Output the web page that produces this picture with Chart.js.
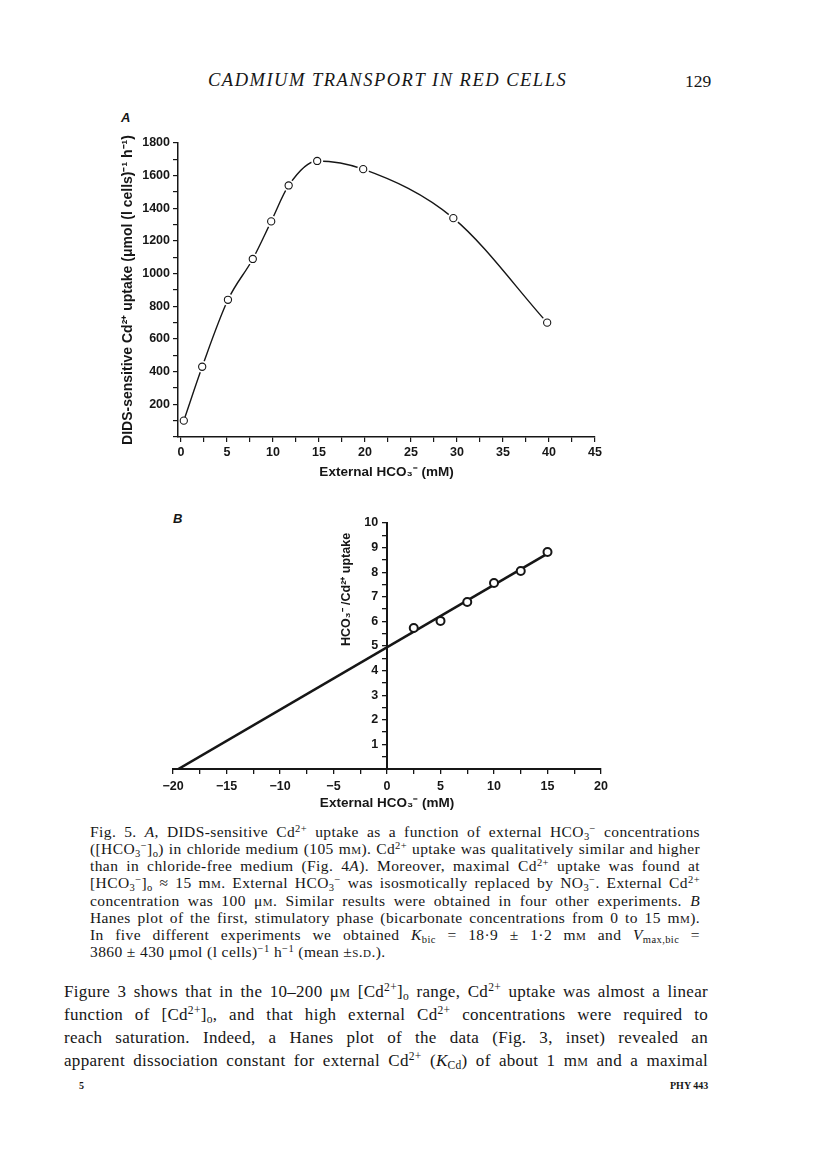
<!DOCTYPE html>
<html>
<head>
<meta charset="utf-8">
<script src="https://cdn.jsdelivr.net/npm/chart.js@4.4.1/dist/chart.umd.min.js"></script>
<style>
body { margin: 0; background: #fff; width: 816px; height: 1163px; position: relative; overflow: hidden; font-family: "Liberation Serif", serif; color: #161616; }
canvas { position: absolute; }
.t { position: absolute; white-space: nowrap; }
.ln { position: absolute; white-space: nowrap; text-align: justify; text-align-last: justify; }
.cap { left: 90px; width: 610px; font-size: 15.5px; line-height: 17px; letter-spacing: 0.4px; }
.body { left: 64px; width: 644px; font-size: 17px; line-height: 23px; letter-spacing: 0.3px; }
.last { text-align-last: left; }
sup, sub { font-size: 0.68em; line-height: 0; }
sup { vertical-align: 0.5em; }
sub { vertical-align: -0.25em; }
.sc { font-variant: small-caps; }
.panel { font-family: "Liberation Sans", sans-serif; font-style: italic; font-weight: bold; font-size: 13px; }
</style>
</head>
<body>

<div class="t" style="left:208px; top:70px; font-size:18.5px; font-style:italic; letter-spacing:1.5px;">CADMIUM TRANSPORT IN RED CELLS</div>
<div class="t" style="left:685px; top:71px; font-size:17.5px;">129</div>

<div class="t panel" style="left:121px; top:110px;">A</div>
<canvas id="chartA" width="520" height="390" style="left:100px; top:100px;"></canvas>

<div class="t panel" style="left:173px; top:511px;">B</div>
<canvas id="chartB" width="470" height="320" style="left:150px; top:500px;"></canvas>

<div class="ln cap" style="top:823px;">Fig. 5. <i>A</i>, DIDS-sensitive Cd<sup>2+</sup> uptake as a function of external HCO<sub>3</sub><sup>−</sup> concentrations</div>
<div class="ln cap" style="top:840px;">([HCO<sub>3</sub><sup>−</sup>]<sub>o</sub>) in chloride medium (105 m<span class="sc">m</span>). Cd<sup>2+</sup> uptake was qualitatively similar and higher</div>
<div class="ln cap" style="top:857px;">than in chloride-free medium (Fig. 4<i>A</i>). Moreover, maximal Cd<sup>2+</sup> uptake was found at</div>
<div class="ln cap" style="top:874px;">[HCO<sub>3</sub><sup>−</sup>]<sub>o</sub> ≈ 15 m<span class="sc">m</span>. External HCO<sub>3</sub><sup>−</sup> was isosmotically replaced by NO<sub>3</sub><sup>−</sup>. External Cd<sup>2+</sup></div>
<div class="ln cap" style="top:892px;">concentration was 100 μ<span class="sc">m</span>. Similar results were obtained in four other experiments. <i>B</i></div>
<div class="ln cap" style="top:909px;">Hanes plot of the first, stimulatory phase (bicarbonate concentrations from 0 to 15 m<span class="sc">m</span>).</div>
<div class="ln cap" style="top:926px;">In five different experiments we obtained <i>K</i><sub>bic</sub> = 18·9 ± 1·2 m<span class="sc">m</span> and <i>V</i><sub>max,bic</sub> =</div>
<div class="ln cap last" style="top:943px;">3860 ± 430 μmol (l cells)<sup>−1</sup> h<sup>−1</sup> (mean ±<span class="sc">s.d.</span>).</div>

<div class="ln body" style="top:980px;">Figure 3 shows that in the 10–200 μ<span class="sc">m</span> [Cd<sup>2+</sup>]<sub>o</sub> range, Cd<sup>2+</sup> uptake was almost a linear</div>
<div class="ln body" style="top:1003px;">function of [Cd<sup>2+</sup>]<sub>o</sub>, and that high external Cd<sup>2+</sup> concentrations were required to</div>
<div class="ln body" style="top:1026px;">reach saturation. Indeed, a Hanes plot of the data (Fig. 3, inset) revealed an</div>
<div class="ln body" style="top:1049px;">apparent dissociation constant for external Cd<sup>2+</sup> (<i>K</i><sub>Cd</sub>) of about 1 m<span class="sc">m</span> and a maximal</div>

<div class="t" style="left:79px; top:1080px; font-size:10px; font-weight:bold;">5</div>
<div class="t" style="left:670px; top:1080px; font-size:10px; font-weight:bold;">PHY 443</div>

<script>
// panel A: DIDS-sensitive uptake vs external bicarbonate
const hco3A = [0.3, 2.3, 5.1, 7.8, 9.8, 11.7, 14.8, 19.8, 29.6, 39.8];
const uptakeA = [100, 430, 840, 1090, 1320, 1540, 1690, 1640, 1340, 700];
const xTickLabelsA = [0, 5, 10, 15, 20, 25, 30, 35, 40, 45];
const yTickLabelsA = [200, 400, 600, 800, 1000, 1200, 1400, 1600, 1800];

// panel B: Hanes plot
const hco3B = [2.5, 5, 7.5, 10, 12.5, 15];
const ratioB = [5.73, 6.02, 6.79, 7.56, 8.05, 8.82];
const fitX = [-19.5, 15];
const fitY = [0, 8.76];
const xTickLabelsB = [-20, -15, -10, -5, 0, 5, 10, 15, 20];
const yTickLabelsB = [1, 2, 3, 4, 5, 6, 7, 8, 9, 10];

const ink = '#161616';
const tickFont = { family: 'Liberation Sans', size: 12.5, weight: 'bold' };
const titleFont = { family: 'Liberation Sans', size: 13.5, weight: 'bold' };

const ptsA = hco3A.map((x, i) => ({ x: x, y: uptakeA[i] }));
const ptsB = hco3B.map((x, i) => ({ x: x, y: ratioB[i] }));
const fitB = fitX.map((x, i) => ({ x: x, y: fitY[i] }));

function minus(v) {
  return v < 0 ? '\u2212' + Math.abs(v) : String(v);
}

new Chart(document.getElementById('chartA'), {
  type: 'scatter',
  data: {
    datasets: [
      { data: ptsA, showLine: false, pointRadius: c => c.dataIndex === 0 ? 4 : 6,
        pointBackgroundColor: '#fff', pointBorderWidth: 0, pointBorderColor: '#fff', order: 1, clip: false },
      { data: ptsA, showLine: true, borderColor: ink, borderWidth: 1.4, cubicInterpolationMode: 'monotone',
        pointRadius: 0, order: 2 },
      { data: ptsA, showLine: false, pointRadius: 3.6, pointBorderWidth: 1.1, pointBorderColor: ink,
        pointBackgroundColor: '#fff', order: 0, clip: false }
    ]
  },
  options: {
    responsive: false,
    animation: false,
    devicePixelRatio: 1,
    layout: { padding: { left: 0, right: 25, top: 43, bottom: 8 } },
    plugins: { legend: { display: false }, tooltip: { enabled: false } },
    scales: {
      x: {
        type: 'linear', min: -0.33, max: 45,
        afterFit: s => { s.height = 45; },
        border: { color: ink, width: 1.5 },
        grid: { drawOnChartArea: false, tickLength: 5, color: ink, lineWidth: 1.2 },
        ticks: { stepSize: 2.5, includeBounds: false, autoSkip: false, maxRotation: 0, padding: 3,
          color: ink, font: tickFont, callback: v => xTickLabelsA.includes(v) ? String(v) : '' },
        title: { display: true, text: 'External HCO\u2083\u207B (mM)', color: ink, font: titleFont,
          padding: { top: 0, bottom: 2 } }
      },
      y: {
        type: 'linear', min: 0, max: 1800,
        afterFit: s => { s.width = 78; },
        border: { color: ink, width: 1.5 },
        grid: { drawOnChartArea: false, tickLength: 5, color: ink, lineWidth: 1.2 },
        ticks: { stepSize: 100, autoSkip: false, padding: 3, color: ink, font: tickFont,
          callback: v => yTickLabelsA.includes(v) ? String(v) : '' },
        title: { display: true, text: 'DIDS-sensitive Cd\u00B2\u207A uptake (\u03BCmol (l cells)\u207B\u00B9 h\u207B\u00B9)',
          color: ink, font: { family: 'Liberation Sans', size: 14, weight: 'bold' }, padding: { top: 20, bottom: 0 } }
      }
    }
  }
});

// y title of panel B is drawn by hand, the axis sits at x = 0
const titleB = {
  id: 'titleB',
  afterDraw(chart) {
    const c = chart.ctx;
    const px = chart.scales.x.getPixelForValue(0) - 40;
    const py = chart.scales.y.getPixelForValue(7.3);
    c.save();
    c.translate(px, py);
    c.rotate(-Math.PI / 2);
    c.fillStyle = ink;
    c.font = 'bold 12.5px "Liberation Sans"';
    c.textAlign = 'center';
    c.textBaseline = 'middle';
    c.fillText('HCO\u2083\u207B /Cd\u00B2\u207A uptake', 0, 0);
    c.restore();
  }
};

new Chart(document.getElementById('chartB'), {
  type: 'scatter',
  data: {
    datasets: [
      { data: fitB, showLine: true, borderColor: ink, borderWidth: 2.6, pointRadius: 0, order: 1 },
      { data: ptsB, showLine: false, pointRadius: 4, pointBorderWidth: 2, pointBorderColor: ink,
        pointBackgroundColor: '#fff', order: 0, clip: false }
    ]
  },
  options: {
    responsive: false,
    animation: false,
    devicePixelRatio: 1,
    layout: { padding: { left: 23, right: 19, top: 23, bottom: 6 } },
    plugins: { legend: { display: false }, tooltip: { enabled: false } },
    scales: {
      x: {
        type: 'linear', min: -20, max: 20,
        afterFit: s => { s.height = 45; },
        border: { color: ink, width: 2 },
        grid: { drawOnChartArea: false, tickLength: 5, color: ink, lineWidth: 1.3 },
        ticks: { stepSize: 2.5, autoSkip: false, maxRotation: 0, padding: 5, color: ink, font: tickFont,
          callback: v => xTickLabelsB.includes(v) ? minus(v) : '' },
        title: { display: true, text: 'External HCO\u2083\u207B (mM)', color: ink, font: titleFont,
          padding: { top: 0, bottom: 3 } }
      },
      y: {
        type: 'linear', min: 0, max: 10, position: { x: 0 },
        border: { color: ink, width: 2 },
        grid: { drawOnChartArea: false, tickLength: 4, color: ink, lineWidth: 1.3 },
        // labels sit on the axis pixel here, so a trailing en + thin space pushes them left of the line
        ticks: { stepSize: 0.5, autoSkip: false, padding: 3, color: ink, font: tickFont,
          callback: v => yTickLabelsB.includes(v) ? v + '\u2002\u2009' : '' }
      }
    }
  },
  plugins: [titleB]
});

document.querySelectorAll('.ln').forEach(el => {
  let ls = parseFloat(getComputedStyle(el).letterSpacing) || 0;
  while (el.scrollWidth > el.clientWidth + 1 && ls > -1.5) {
    ls -= 0.05;
    el.style.letterSpacing = ls + 'px';
  }
});
</script>
</body>
</html>
